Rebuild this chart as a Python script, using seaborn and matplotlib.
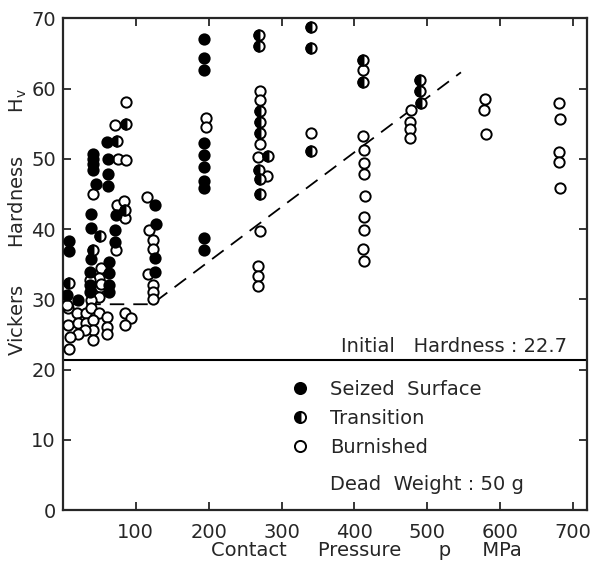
import matplotlib
matplotlib.use("Agg")
import matplotlib.pyplot as plt
from matplotlib.lines import Line2D
from matplotlib.markers import MarkerStyle
import seaborn as sns
import pandas as pd

# contact pressure p (MPa) and Vickers hardness Hv
seized_p = [9, 9, 5, 21,
            41, 41, 41, 41, 46, 39, 39, 39, 37, 37, 37,
            60, 62, 62, 62, 63, 63, 63, 63,
            73, 72, 71,
            127, 128, 126, 126,
            194, 194, 194, 194, 194, 194, 194, 194, 194, 194]
seized_hv = [38.3, 36.9, 30.6, 29.9,
             50.7, 50.0, 49.3, 48.4, 46.4, 42.1, 40.2, 35.7, 33.9, 32.1, 31.0,
             52.4, 49.9, 47.8, 46.1, 35.3, 33.7, 32.1, 31.0,
             42.0, 39.9, 38.1,
             43.4, 40.7, 35.9, 33.9,
             67.1, 64.3, 62.7, 52.2, 50.5, 48.9, 46.9, 45.8, 38.7, 37.0]

trans_p = [9, 51, 41, 74, 86, 85,
           269, 269, 271, 271, 271, 281, 269, 270, 270,
           340, 340, 340,
           411, 411,
           490, 490, 491]
trans_hv = [32.3, 39.0, 37.0, 52.5, 55.0, 42.7,
            67.6, 66.0, 56.8, 55.2, 53.6, 50.4, 48.4, 47.1, 45.0,
            68.7, 65.7, 51.1,
            64.0, 60.9,
            61.2, 59.6, 58.0]

burn_p = [41, 52, 50, 51, 50, 39, 37, 52,
          71, 86, 76, 87, 74, 84, 85, 73,
          116, 118, 123, 123, 117, 124, 123, 123,
          7, 20, 32, 39, 50, 60, 7, 21, 32, 42, 60, 61, 42, 30, 21, 10, 42, 9, 5, 85, 93, 85,
          196, 196,
          271, 271, 271, 267, 280, 271, 267, 267, 267,
          340,
          411, 411, 413, 413, 413, 415, 413, 413, 411, 413,
          477, 476, 476, 476,
          579, 578, 581,
          681, 682, 681, 681, 682]
burn_hv = [45.0, 34.4, 33.0, 31.8, 30.3, 29.9, 32.7, 32.2,
           54.8, 58.1, 49.9, 49.8, 43.4, 44.0, 41.6, 37.0,
           44.6, 39.9, 38.4, 37.2, 33.6, 32.1, 31.1, 30.1,
           28.7, 28.1, 28.1, 28.7, 28.0, 27.5, 26.3, 26.6, 26.6, 27.1, 26.1, 25.1, 25.7, 25.6, 25.0,
           24.6, 24.2, 22.9, 29.2, 28.0, 27.4, 26.3,
           55.8, 54.5,
           59.7, 58.3, 52.1, 50.2, 47.5, 39.7, 34.7, 33.3, 31.9,
           53.6,
           62.6, 53.3, 51.2, 49.4, 47.9, 44.7, 41.7, 39.8, 37.1, 35.4,
           57.0, 55.2, 54.2, 52.9,
           58.5, 56.9, 53.5,
           58.0, 55.6, 50.9, 49.6, 45.9]

# dashed guide line (knee points) and initial hardness level
guide_p = [0, 122, 546]
guide_hv = [29.3, 29.3, 62.3]
initial_hv = 21.3

x_ticks = [100, 200, 300, 400, 500, 600, 700]
y_ticks = [0, 10, 20, 30, 40, 50, 60, 70]

seized_df = pd.DataFrame({"p": seized_p, "hv": seized_hv})
trans_df = pd.DataFrame({"p": trans_p, "hv": trans_hv})
burn_df = pd.DataFrame({"p": burn_p, "hv": burn_hv})
guide_df = pd.DataFrame({"p": guide_p, "hv": guide_hv})

sns.set_style("ticks")
plt.rcParams["font.family"] = ["DejaVu Sans"]

fig = plt.figure(figsize=(5.93, 5.70), dpi=100)
ax = fig.add_axes([0.106, 0.105, 0.884, 0.863])

# guide lines
sns.lineplot(data=guide_df, x="p", y="hv", ax=ax, color="black", lw=1.3,
             dashes=False, sort=False, estimator=None)
ax.lines[-1].set_dashes([8, 5])
ax.axhline(initial_hv, color="black", lw=1.5)

msize = 55
mlw = 1.4
sns.scatterplot(data=burn_df, x="p", y="hv", ax=ax, s=msize, facecolor="white",
                edgecolor="black", linewidth=mlw, zorder=3)
sns.scatterplot(data=seized_df, x="p", y="hv", ax=ax, s=msize, color="black",
                edgecolor="black", linewidth=mlw, zorder=4)
# transition: open circle with left half filled
sns.scatterplot(data=trans_df, x="p", y="hv", ax=ax, s=msize, facecolor="white",
                edgecolor="black", linewidth=mlw, zorder=4)
sns.scatterplot(data=trans_df, x="p", y="hv", ax=ax, s=msize,
                marker=MarkerStyle("o", fillstyle="left"), color="black",
                edgecolor="black", linewidth=mlw, zorder=5)

ax.set_xlim(0, 719)
ax.set_ylim(0, 70)
ax.set_xticks(x_ticks)
ax.set_yticks(y_ticks)
ax.tick_params(direction="in", length=6, width=1.3, labelsize=14,
               top=True, right=True)
ax.tick_params(axis="x", pad=9)
ax.tick_params(axis="y", pad=5)
for sp in ax.spines.values():
    sp.set_linewidth(1.6)
ax.set_xlabel("")
ax.set_ylabel("")

fig.text(0.03, 0.61, "Vickers      Hardness       H$_\\mathregular{v}$", rotation=90,
         ha="center", va="center", fontsize=14)
fig.text(0.617, 0.035, "Contact     Pressure      p     MPa", ha="center", va="center",
         fontsize=14)

# legend
handles = [
    Line2D([], [], ls="none", marker="o", ms=8, mfc="black", mec="black", mew=mlw),
    Line2D([], [], ls="none", marker="o", ms=8, fillstyle="left", mfc="black",
           mfcalt="white", mec="black", mew=mlw),
    Line2D([], [], ls="none", marker="o", ms=8, mfc="white", mec="black", mew=mlw),
]
ax.legend(handles, ["Seized  Surface", "Transition", "Burnished"], loc="upper left",
          bbox_to_anchor=(0.40, 0.28), frameon=False, fontsize=14,
          handletextpad=0.55, labelspacing=0.5, borderaxespad=0)
ax.text(366, 3.6, "Dead  Weight : 50 g", fontsize=14, va="center", ha="left")
ax.text(692, 23.3, "Initial   Hardness : 22.7", fontsize=14, va="center", ha="right")

fig.savefig("out.png", dpi=100)
